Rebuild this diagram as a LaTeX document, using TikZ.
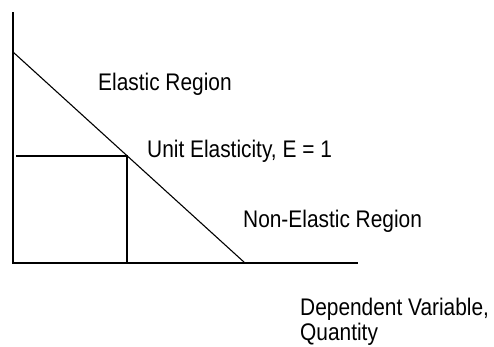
\documentclass[tikz,border=0pt]{standalone}
\usepackage{fontspec}
\setmainfont[FakeStretch=0.87]{Liberation Sans}
\begin{document}
\begin{tikzpicture}[x=1pt,y=-1pt,
  lbl/.style={inner sep=0pt,anchor=base west,font=\fontsize{24}{25}\selectfont},
  ln/.style={line width=1.1pt,black}]
\useasboundingbox (0,0) rectangle (494,346);
\coordinate (top) at (13,12);
\coordinate (O) at (13,263);
\coordinate (xend) at (358,263);
\coordinate (dtop) at (13,52);
\coordinate (dbot) at (245,263);
\coordinate (U) at (127,156);
\coordinate (Uy) at (16,156);
\coordinate (Ux) at (127,263);
\draw[ln] (top) -- (O) -- (xend);
\draw[ln] (dtop) -- (dbot);
\draw[ln] (Uy) -- (U) -- (Ux);
\node[lbl] (el) at (98,90) {Elastic Region};
\node[lbl] (ue) at (147,157) {Unit Elasticity, E = 1};
\node[lbl] (ne) at (243,227) {Non-Elastic Region};
\node[lbl,align=left] (dv) at (300,340) {Dependent Variable,\\Quantity};
\end{tikzpicture}
\end{document}
